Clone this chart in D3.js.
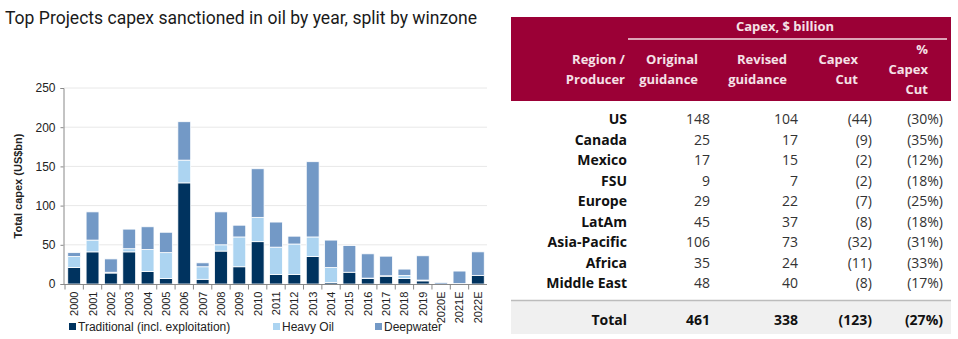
<!DOCTYPE html>
<html>
<head>
<meta charset="utf-8">
<script src="https://cdn.jsdelivr.net/npm/d3@7"></script>
<style>
  body { margin: 0; background: #fff; }
  svg { display: block; }
</style>
</head>
<body>
<svg id="chart" width="958" height="339"></svg>
<script>
// capex sanctioned by year, US$bn
var years = ["2000","2001","2002","2003","2004","2005","2006","2007","2008","2009","2010","2011",
  "2012","2013","2014","2015","2016","2017","2018","2019","2020E","2021E","2022E"];
var traditional = [21, 41, 14, 41, 16, 7, 129, 6, 42, 22, 54, 12, 12, 35, 2, 15, 7, 10, 7, 4, 0, 0, 11];
var heavyOil    = [14, 15, 1, 4, 28, 33, 29, 16, 8, 38, 31, 35, 39, 25, 19, 0, 0.5, 0.5, 4, 1, 0, 0.5, 0];
var deepwater   = [5, 36, 17, 25, 29, 26, 49, 5, 42, 15, 62, 32, 10, 96, 35, 34, 31, 25, 8, 31, 2, 16, 30];
var seriesNames = ["Traditional (incl. exploitation)", "Heavy Oil", "Deepwater"];
var yTicks = [0, 50, 100, 150, 200, 250];

// capex guidance table, $ billion
var regions  = ["US", "Canada", "Mexico", "FSU", "Europe", "LatAm", "Asia-Pacific", "Africa", "Middle East"];
var original = [148, 25, 17, 9, 29, 45, 106, 35, 48];
var revised  = [104, 17, 15, 7, 22, 37, 73, 24, 40];
var capexCut = [-44, -9, -2, -2, -7, -8, -32, -11, -8];
var pctCut   = [-30, -35, -12, -18, -25, -18, -31, -33, -17];
var totals   = ["Total", 461, 338, -123, -27];

var svg = d3.select("#chart");
var colors = ["#00335f", "#acd4f1", "#7399c6"];

svg.append("text")
  .attr("x", 5).attr("y", 24)
  .attr("font-family", "Liberation Sans Narrow, Roboto, sans-serif")
  .attr("font-size", 18)
  .attr("fill", "#1a1a1a")
  .attr("textLength", 472)
  .attr("lengthAdjust", "spacingAndGlyphs")
  .text("Top Projects capex sanctioned in oil by year, split by winzone");

// ---- stacked bars ----
var x = d3.scaleBand().domain(years).range([65, 487]).paddingInner(0.3).paddingOuter(0.15);
var y = d3.scaleLinear().domain([0, 250]).range([284, 88]);

var rows = years.map(function (yr, i) {
  return { year: yr, t: traditional[i], h: heavyOil[i], d: deepwater[i] };
});
var stack = d3.stack().keys(["t", "h", "d"])(rows);

var font = "Liberation Sans, Arial, sans-serif";

// gridlines
svg.append("g").selectAll("line")
  .data(yTicks.slice(1))
  .join("line")
  .attr("x1", 64).attr("x2", 487)
  .attr("y1", function (d) { return y(d); })
  .attr("y2", function (d) { return y(d); })
  .attr("stroke", "#e8e8e8").attr("stroke-width", 1);

svg.append("g").selectAll("g")
  .data(stack)
  .join("g")
  .attr("fill", function (d, i) { return colors[i]; })
  .selectAll("rect")
  .data(function (d) { return d; })
  .join("rect")
  .attr("x", function (d) { return x(d.data.year); })
  .attr("width", x.bandwidth())
  .attr("y", function (d) { return y(d[1]); })
  .attr("height", function (d) { return Math.max(0, y(d[0]) - y(d[1])); })
  .attr("stroke", "#fff")
  .attr("stroke-width", function (d) { return d[1] - d[0] > 0 ? 0.8 : 0; });

// y axis
var yAxis = svg.append("g")
  .attr("transform", "translate(63.5,0)")
  .call(d3.axisLeft(y).tickValues(yTicks).tickSize(3).tickPadding(5));
yAxis.select(".domain").attr("stroke", "#888");
yAxis.selectAll(".tick line").attr("stroke", "#888");
yAxis.selectAll("text").attr("font-family", font).attr("font-size", 12).attr("fill", "#222");

// x axis, ticks sit between the bars
var xAxis = svg.append("g").attr("transform", "translate(0,284.5)");
xAxis.append("line").attr("x1", 63).attr("x2", 487).attr("stroke", "#888");
xAxis.selectAll("line.sep")
  .data(years)
  .join("line")
  .attr("class", "sep")
  .attr("x1", function (d) { return x(d) - x.step() * x.paddingInner() / 2; })
  .attr("x2", function (d) { return x(d) - x.step() * x.paddingInner() / 2; })
  .attr("y1", 0).attr("y2", 5)
  .attr("stroke", "#888");
xAxis.selectAll("text")
  .data(years)
  .join("text")
  .attr("transform", function (d) {
    return "translate(" + (x(d) + x.bandwidth() / 2 + 4) + ",7) rotate(-90)";
  })
  .attr("text-anchor", "end")
  .attr("font-family", font).attr("font-size", 11).attr("fill", "#222")
  .text(function (d) { return d; });

svg.append("text")
  .attr("transform", "translate(22,186) rotate(-90)")
  .attr("text-anchor", "middle")
  .attr("font-family", font).attr("font-size", 11).attr("font-weight", "bold")
  .attr("fill", "#222")
  .text("Total capex (US$bn)");

// legend
var legendX = [69, 273, 375];
var legend = svg.append("g").selectAll("g")
  .data(seriesNames)
  .join("g")
  .attr("transform", function (d, i) { return "translate(" + legendX[i] + ",327)"; });
legend.append("rect")
  .attr("x", 0).attr("y", -4).attr("width", 7).attr("height", 7)
  .attr("fill", function (d, i) { return colors[i]; });
legend.append("text")
  .attr("x", 9).attr("y", 4)
  .attr("font-family", font).attr("font-size", 12).attr("fill", "#222")
  .text(function (d) { return d; });

// ---- capex table ----
var tFont = "Open Sans, Noto Sans, sans-serif";
var paren = function (v, pct) { return "(" + Math.abs(v) + (pct ? "%" : "") + ")"; };

svg.append("rect")
  .attr("x", 511).attr("y", 17).attr("width", 440).attr("height", 84)
  .attr("fill", "#9b0036");
svg.append("line")
  .attr("x1", 628).attr("x2", 947).attr("y1", 39).attr("y2", 39)
  .attr("stroke", "#f3dbe3").attr("stroke-width", 1.5);

var head = svg.append("g")
  .attr("font-family", tFont).attr("font-size", 13).attr("font-weight", "bold")
  .attr("fill", "#f5e1e7");
head.append("text").attr("x", 785).attr("y", 31).attr("text-anchor", "middle").text("Capex, $ billion");

var headCols = [
  { x: 625, lines: ["Region /", "Producer"], y0: 64 },
  { x: 698, lines: ["Original", "guidance"], y0: 64 },
  { x: 787, lines: ["Revised", "guidance"], y0: 64 },
  { x: 858, lines: ["Capex", "Cut"], y0: 64 },
  { x: 928, lines: ["%", "Capex", "Cut"], y0: 54 }
];
headCols.forEach(function (c) {
  c.lines.forEach(function (l, j) {
    head.append("text")
      .attr("x", c.x).attr("y", c.y0 + j * 20)
      .attr("text-anchor", "end")
      .text(l);
  });
});

var colX = [627, 710, 798, 872, 943];
var rowY = d3.scalePoint().domain(regions).range([124, 288]);

var body = svg.append("g").attr("font-family", tFont).attr("font-size", 14);
regions.forEach(function (r, i) {
  var cells = [r, original[i], revised[i], paren(capexCut[i]), paren(pctCut[i], true)];
  cells.forEach(function (c, j) {
    body.append("text")
      .attr("x", colX[j]).attr("y", rowY(r))
      .attr("text-anchor", "end")
      .attr("font-weight", j === 0 ? "bold" : "normal")
      .attr("fill", j === 0 ? "#111" : "#333")
      .text(c);
  });
});

// total row on a grey band
svg.append("rect")
  .attr("x", 511).attr("y", 301).attr("width", 440).attr("height", 33)
  .attr("fill", "#f0f0f0");
svg.append("line")
  .attr("x1", 511).attr("x2", 951).attr("y1", 300.5).attr("y2", 300.5)
  .attr("stroke", "#bcbcbc").attr("stroke-width", 1.5);
var totalRow = svg.append("g").attr("font-family", tFont).attr("font-size", 14)
  .attr("font-weight", "bold").attr("fill", "#111");
var totalCells = [totals[0], totals[1], totals[2], paren(totals[3]), paren(totals[4], true)];
totalCells.forEach(function (c, j) {
  totalRow.append("text")
    .attr("x", colX[j]).attr("y", 325)
    .attr("text-anchor", "end")
    .text(c);
});
</script>
</body>
</html>
